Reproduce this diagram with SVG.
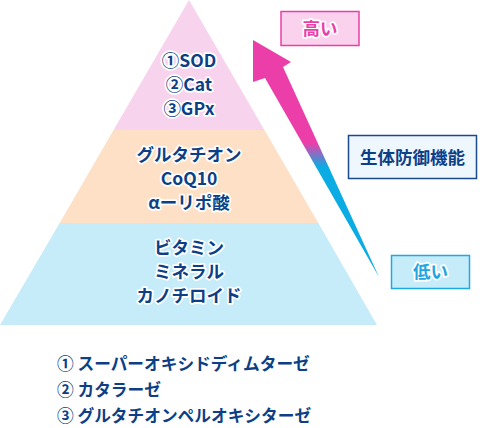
<svg xmlns="http://www.w3.org/2000/svg" width="480" height="428" viewBox="0 0 480 428">
<defs>
<linearGradient id="arrowGrad" gradientUnits="userSpaceOnUse" x1="0" y1="40" x2="0" y2="277">
<stop offset="0" stop-color="#ec3ea9"/>
<stop offset="0.435" stop-color="#ec3ea9"/>
<stop offset="0.536" stop-color="#0aace3"/>
<stop offset="1" stop-color="#0aace3"/>
</linearGradient>
<style>
text{font-family:"Noto Sans CJK JP","Noto Sans",sans-serif;font-weight:700;}
.lbl{font-size:17.5px;fill:#0d3f86;text-anchor:middle;stroke:#ffffff;stroke-width:3.5px;stroke-linejoin:round;paint-order:stroke;}
.note{font-size:16.7px;fill:#0d3f86;}
.box{stroke-width:1.5px;}
</style>
</defs>
<g id="layer-top">
<polygon points="189,0 264.4,130 113.6,130" fill="#f8d3ed"/>
<text class="lbl" x="189" y="67">①SOD</text>
<text class="lbl" x="189" y="91">②Cat</text>
<text class="lbl" x="189" y="115">③GPx</text>
</g>
<g id="layer-middle">
<polygon points="113.6,130 264.4,130 318.3,223 59.7,223" fill="#fde0c6"/>
<text class="lbl" x="189" y="161">グルタチオン</text>
<text class="lbl" x="189" y="185">CoQ10</text>
<text class="lbl" x="189" y="209">αーリポ酸</text>
</g>
<g id="layer-bottom">
<polygon points="59.7,223 318.3,223 377,325 0,325" fill="#c6ecf9"/>
<text class="lbl" x="189" y="254">ビタミン</text>
<text class="lbl" x="189" y="278">ミネラル</text>
<text class="lbl" x="189" y="302">カノチロイド</text>
</g>
<g id="connectors">
<polygon points="253,40 291,62 283,67 379,277 265,78 253,82" fill="url(#arrowGrad)"/>
</g>
<g id="label-high">
<rect class="box" x="281" y="11.5" width="78" height="34" fill="#fad2ee" stroke="#e93fa9"/>
<text class="lbl" x="320" y="34.5" style="fill:#e93fa9">高い</text>
</g>
<g id="label-function">
<rect class="box" x="348.5" y="135.5" width="128" height="43" fill="#eef6fe" stroke="#1b4a8b"/>
<text x="412.5" y="164" font-size="17.5" fill="#0d3f86" text-anchor="middle">生体防御機能</text>
</g>
<g id="label-low">
<rect class="box" x="391.5" y="255.5" width="78" height="33" fill="#c6ecf9" stroke="#1ea9e1"/>
<text class="lbl" x="430.5" y="278" style="fill:#22a6df">低い</text>
</g>
<g id="notes">
<text class="note" x="57" y="370">① スーパーオキシドディムターゼ</text>
<text class="note" x="57" y="396">② カタラーゼ</text>
<text class="note" x="57" y="422">③ グルタチオンペルオキシターゼ</text>
</g>
</svg>
